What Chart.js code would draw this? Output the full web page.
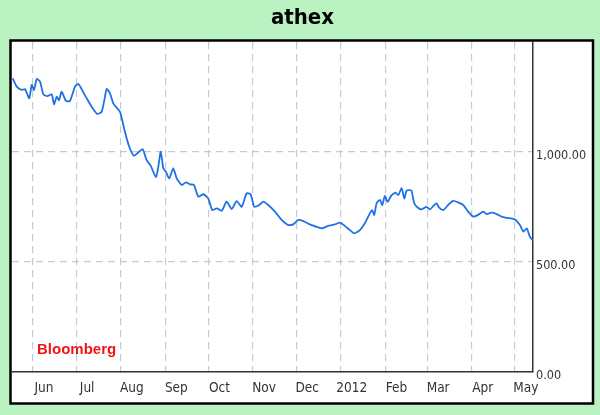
<!DOCTYPE html>
<html><head><meta charset="utf-8">
<script src="https://cdn.jsdelivr.net/npm/chart.js@4.4.1/dist/chart.umd.min.js"></script>
<style>
html,body{margin:0;padding:0;background:#bbf2c2;}
#wrap{position:relative;width:600px;height:415px;overflow:hidden;}
#note{position:absolute;left:37px;top:340px;line-height:17px;font:bold 15px "Liberation Sans",Arial,sans-serif;color:#f21414;}
</style></head><body>
<div id="wrap"><canvas id="c" width="600" height="415"></canvas><div id="note">Bloomberg</div></div>
<script>
// day offsets from 2011-06-01 for month starts
const monthTicks = [0, 30, 61, 92, 122, 153, 183, 214, 245, 274, 305, 335];
const monthLabels = ['Jun','Jul','Aug','Sep','Oct','Nov','Dec','2012','Feb','Mar','Apr','May'];
const yTicks = [0, 500, 1000];
// series: days since 2011-06-01, index value
const days = [-14.1,-11.3,-7.9,-5.6,-2.6,-0.9,0.7,2.6,4.9,7.2,9.9,13.0,14.6,16.5,18.1,19.9,22.9,25.7,29.2,31.5,33.8,37.3,40.8,44.7,47.7,49.6,51.2,53.5,55.8,58.2,60.5,63.9,66.9,70.2,73.2,76.2,79.0,81.8,85.5,87.1,88.8,90.6,92.4,94.7,97.5,99.9,103.4,106.3,109.1,111.9,114.9,118.4,121.8,124.6,127.7,131.2,134.6,138.1,141.6,145.1,148.5,151.3,153.8,157.3,160.1,163.5,168.2,172.9,177.4,180.9,184.4,187.9,192.5,197.2,200.7,205.2,209.9,213.4,216.8,220.3,223.3,227.3,230.7,234.2,235.8,237.2,238.9,241.2,242.8,244.6,246.5,249.3,252.1,253.9,256.3,258.1,259.7,261.3,263.2,265.0,267.4,270.2,273.6,275.9,278.2,280.6,282.2,285.2,288.6,292.1,295.6,299.1,302.5,306.0,309.5,313.0,315.3,318.8,322.3,325.8,329.2,332.7,335.5,338.5,340.9,343.3,345.4,347.7];
const values = [1335,1297,1282,1286,1244,1305,1282,1332,1320,1262,1254,1262,1217,1251,1236,1274,1232,1232,1297,1309,1286,1244,1206,1173,1183,1236,1286,1267,1221,1201,1183,1092,1024,983,998,1013,963,938,885,933,1001,926,910,880,926,880,850,862,853,850,797,808,789,736,744,733,774,741,777,751,812,808,751,759,774,759,729,691,668,671,691,686,671,660,653,664,671,679,664,645,630,645,676,721,736,714,767,782,759,800,774,804,815,804,835,789,824,827,824,767,748,739,751,739,754,767,748,736,759,778,771,759,729,706,714,729,718,724,718,706,701,698,691,668,638,653,615,597];

const frame = {
  id: 'frame',
  beforeDraw(chart) {
    const ctx = chart.ctx;
    ctx.save();
    ctx.fillStyle = '#ffffff';
    ctx.fillRect(10, 40, 583, 364);
    ctx.strokeStyle = '#000000';
    ctx.lineWidth = 2.5;
    ctx.strokeRect(10.5, 40.5, 582.5, 363);
    ctx.restore();
  }
};

const tickFont = '"DejaVu Sans Condensed","Liberation Sans Narrow",sans-serif';

new Chart(document.getElementById('c'), {
  type: 'line',
  data: {
    datasets: [{
      data: days.map((d, i) => ({x: d, y: values[i]})),
      borderColor: '#1f72e4',
      borderWidth: 1.8,
      pointRadius: 0,
      tension: 0.2,
      fill: false
    }]
  },
  options: {
    responsive: false,
    animation: false,
    devicePixelRatio: 1,
    layout: {padding: {left: 12, right: 7, top: 0, bottom: 12}},
    plugins: {
      legend: {display: false},
      tooltip: {enabled: false},
      title: {
        display: true,
        text: 'athex',
        color: '#000',
        font: {family: tickFont, size: 22, weight: 'bold', lineHeight: 1.2},
        padding: {top: 5, bottom: 10.6}
      }
    },
    scales: {
      x: {
        type: 'linear',
        min: -14.6,
        max: 347.6,
        afterBuildTicks: s => { s.ticks = monthTicks.map(v => ({value: v})); },
        afterFit: s => { s.height = 31; },
        ticks: {
          callback: (v, i) => monthLabels[i],
          labelOffset: 11,
          padding: 8,
          color: '#333',
          maxRotation: 0,
          autoSkip: false,
          font: {family: tickFont, size: 13.5}
        },
        grid: {color: '#c3cad1', lineWidth: 1.2, drawTicks: false},
        border: {display: true, color: '#333', width: 1.5, dash: [7, 5]}
      },
      y: {
        position: 'right',
        min: 0,
        max: 1500,
        afterBuildTicks: s => { s.ticks = yTicks.map(v => ({value: v})); },
        afterFit: s => { s.width = 60; },
        ticks: {
          callback: v => v.toLocaleString('en-US', {minimumFractionDigits: 2, maximumFractionDigits: 2}),
          labelOffset: 4,
          padding: 3,
          color: '#333',
          font: {family: tickFont, size: 12.5}
        },
        grid: {color: '#c3cad1', lineWidth: 1.2, drawTicks: false},
        border: {display: true, color: '#333', width: 1.5, dash: [7, 5]}
      }
    }
  },
  plugins: [frame]
});
</script>
</body></html>
